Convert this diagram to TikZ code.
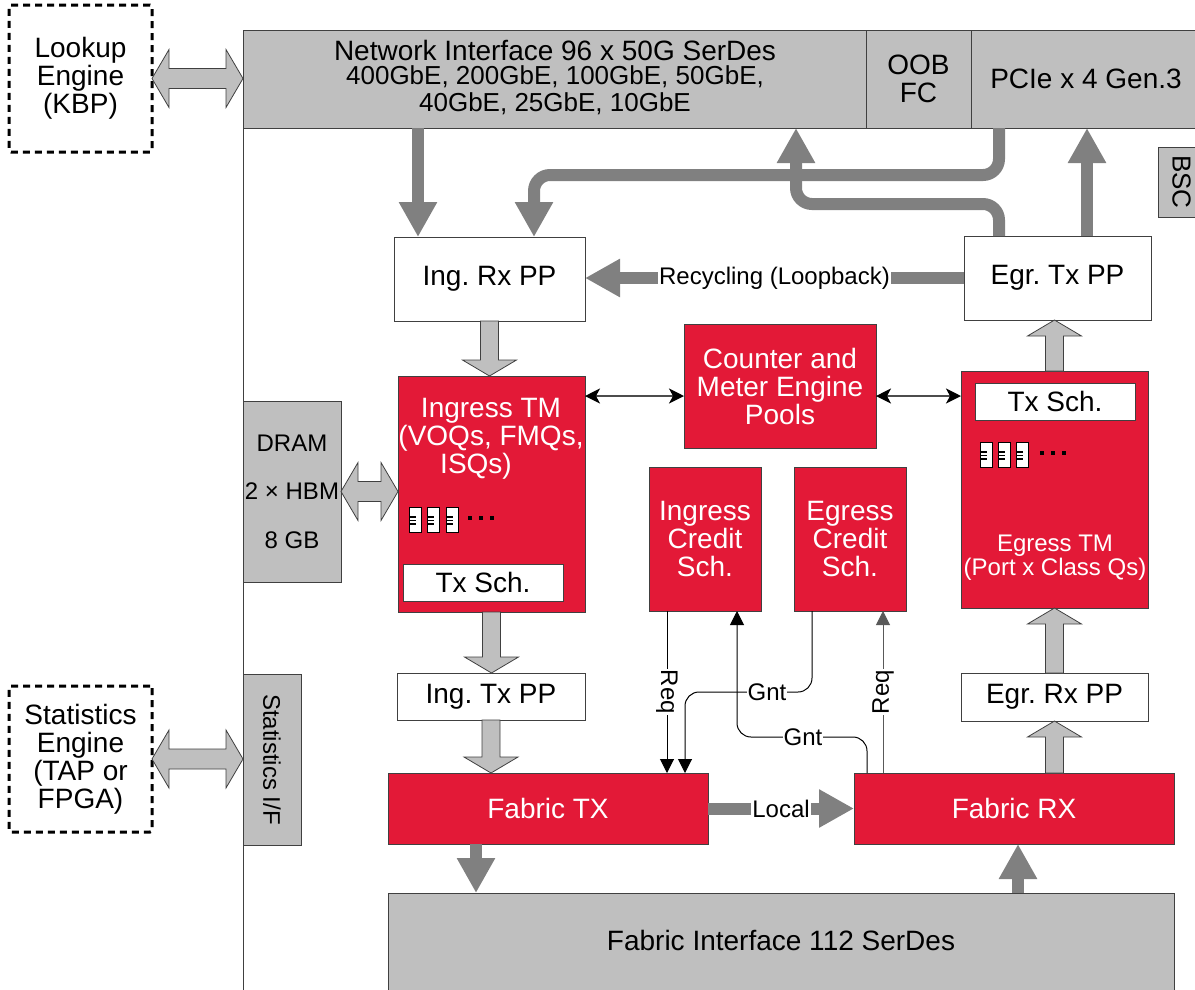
\documentclass[tikz,border=0pt]{standalone}
\usepackage{fontspec}
\setmainfont{Liberation Sans}
\usetikzlibrary{arrows.meta,calc}
\frenchspacing
\definecolor{chipred}{RGB}{227,25,55}
\definecolor{boxgray}{RGB}{191,191,191}
\definecolor{arrgray}{RGB}{128,128,128}
\definecolor{edgegray}{RGB}{64,64,64}
\newcommand\fs[1]{\fontsize{#1}{#1}\selectfont}
\newcommand\hollowV[3]{\draw[hollow] let \p1=#1, \p2=#2 in
  (\x1-9pt,\y1) -- (\x1-9pt,\y2#3) -- (\x1-27pt,\y2#3) -- (\x1,\y2) -- (\x1+27pt,\y2#3) -- (\x1+9pt,\y2#3) -- (\x1+9pt,\y1) -- cycle;}
\newcommand\hollowH[2]{\draw[hollow] let \p1=#1, \p2=#2 in
  (\x1,\y1) -- (\x1+17pt,\y1+29pt) -- (\x1+17pt,\y1+10pt) -- (\x2-17pt,\y1+10pt) -- (\x2-17pt,\y1+29pt) -- (\x2,\y1) -- (\x2-17pt,\y1-29pt) -- (\x2-17pt,\y1-10pt) -- (\x1+17pt,\y1-10pt) -- (\x1+17pt,\y1-29pt) -- cycle;}
\newcommand\qicon[2]{%
  \draw[black, line width=0.9pt, fill=white] (#1,#2) rectangle ++(12,25);
  \foreach \dy in {10,13.5,17} \draw[black, line width=1.7pt] (#1,#2+\dy) -- ++(7,0);}
\newcommand\qdots[2]{%
  \foreach \dx in {0,11,22} \fill[black] (#1+\dx,#2-2) rectangle ++(4,4);}
\tikzset{
  box/.style={draw=edgegray, line width=0.9pt, inner sep=0pt, outer sep=0pt, anchor=north west, align=center, font=\fs{28}},
  redbox/.style={box, fill=chipred, text=white},
  graybox/.style={box, fill=boxgray},
  whitebox/.style={box, fill=white},
  dashbox/.style={box, draw=black, line width=3pt, dash pattern=on 7pt off 5pt, rounded corners=2pt},
  dkarrow/.style={draw=arrgray, line width=12pt, -{Triangle[width=36pt,length=35pt]}},
  thinarrow/.style={draw=black, line width=1pt, -{Triangle[width=14pt,length=14pt]}},
  dblthin/.style={draw=black!70, line width=1.5pt, {Stealth[length=15pt,width=15pt,inset=4pt,color=black]}-{Stealth[length=15pt,width=15pt,inset=4pt,color=black]}},
  hollow/.style={draw=edgegray, fill=boxgray, line width=0.8pt},
  lbl/.style={fill=white, inner sep=1pt, font=\fs{24}, text=black},
  txt/.style={inner sep=0pt, align=center}
}
\begin{document}
\begin{tikzpicture}[x=1pt,y=-1pt]
\useasboundingbox (0,0) rectangle (1195,989);
% helper coordinates
\coordinate (c418) at (418,0);
\coordinate (c476) at (476,0);
\coordinate (c667) at (667,0);
\coordinate (c685) at (685,0);
\coordinate (c737) at (737,0);
\coordinate (c812) at (812,0);
\coordinate (c867) at (867,0);
\coordinate (c883) at (883,0);
\coordinate (c999) at (999,0);
\coordinate (c1018) at (1018,0);
\coordinate (c1087) at (1087,0);
\coordinate (bendA) at (534,175);
\coordinate (bendB) at (796,204);
\coordinate (r396) at (0,396);
\coordinate (r692) at (0,692);
\coordinate (r737) at (0,737);
\coordinate (chipbot) at (243,995);

% chip outline
\draw[edgegray, line width=0.9pt] (243,30) -- (chipbot);

% external engines
\node[dashbox, minimum width=143pt, minimum height=147pt] (lookup) at (9,5) {Lookup\\Engine\\(KBP)};
\node[dashbox, minimum width=143pt, minimum height=146pt] (statseng) at (9,686) {Statistics\\Engine\\(TAP or\\FPGA)};

% top interfaces
\node[graybox, minimum width=623pt, minimum height=98pt] (netif) at (243,30) {};
\node[graybox, minimum width=105pt, minimum height=98pt] (oob) at (866,30) {OOB\\FC};
\node[graybox, minimum width=234pt, minimum height=98pt] (pcie) at (971,30) {PCIe x 4 Gen.3\hspace*{4pt}};
\node[txt, font=\fs{28}] (netl1) at (555,50) {Network Interface 96 x 50G SerDes};
\node[txt, font=\fontsize{26}{26.5}\selectfont] (netl2) at (555,90) {400GbE, 200GbE, 100GbE, 50GbE,\\40GbE, 25GbE, 10GbE};
\node[graybox, minimum width=47pt, minimum height=70pt, font=\fs{26}] (bsc) at (1158,147) {\rotatebox{-90}{BSC}};

% left side blocks
\node[graybox, minimum width=98pt, minimum height=181pt, font=\fontsize{24}{48.5}\selectfont] (dram) at (243,401) {DRAM\\2 × HBM\\8 GB};
\node[graybox, minimum width=58pt, minimum height=171pt, font=\fs{24}] (statsif) at (243,674) {\rotatebox{-90}{Statistics I/F}};

% packet processors
\node[whitebox, minimum width=191pt, minimum height=84pt] (ingrx) at (394,237) {Ing. Rx PP};
\node[whitebox, minimum width=187pt, minimum height=84pt] (egrtx) at (964,236) {Egr. Tx PP};
\node[whitebox, minimum width=188pt, minimum height=47pt] (ingtx) at (397,673) {Ing. Tx PP};
\node[whitebox, minimum width=187pt, minimum height=48pt] (egrrx) at (961,673) {Egr. Rx PP};

% traffic managers
\node[redbox, minimum width=187pt, minimum height=236pt] (ingtm) at (398,376) {};
\node[txt, font=\fs{28}, text=white] (ingtmlbl) at (491,439) {Ingress TM\\(VOQs, FMQs,\\ISQs)\rule{30pt}{0pt}};
\node[whitebox, minimum width=160pt, minimum height=37pt] (txsch1) at (403,564) {Tx Sch.};
\qicon{409}{507}\qicon{427}{507}\qicon{446}{507}
\qdots{468}{518}

\node[redbox, minimum width=187pt, minimum height=237pt] (egtm) at (961,371) {};
\node[txt, font=\fs{24}, text=white] (egtmlbl) at (1055,558) {Egress TM\\(Port x Class Qs)};
\node[whitebox, minimum width=160pt, minimum height=37pt] (txsch2) at (975,383) {Tx Sch.};
\qicon{980}{442}\qicon{998}{442}\qicon{1016}{442}
\qdots{1040}{453}

\node[redbox, minimum width=192pt, minimum height=124pt] (cme) at (684,324) {Counter and\\Meter Engine\\Pools};
\node[redbox, minimum width=112pt, minimum height=144pt] (icsch) at (649,467) {Ingress\\Credit\\Sch.};
\node[redbox, minimum width=112pt, minimum height=144pt] (ecsch) at (794,467) {Egress\\Credit\\Sch.};

% fabric
\node[redbox, minimum width=320pt, minimum height=71pt] (ftx) at (388,773) {Fabric TX};
\node[redbox, minimum width=320pt, minimum height=71pt] (frx) at (854,773) {Fabric RX};
\node[graybox, minimum width=786pt, minimum height=102pt] (fabif) at (388,893) {};
\node[txt, font=\fs{28}] (fabiflbl) at (781,940) {Fabric Interface 112 SerDes};

% hollow double arrows
\hollowH{(lookup.east)}{(lookup.east -| netif.west)}
\hollowH{(dram.east)}{(dram.east -| ingtm.west)}
\hollowH{(statseng.east)}{(statseng.east -| statsif.west)}

% hollow single arrows
\hollowV{(ingrx.south)}{(ingrx.south |- ingtm.north)}{+16pt}
\hollowV{(ingtm.south)}{(ingtm.south |- ingtx.north)}{+16pt}
\hollowV{(ingtx.south)}{(ingtx.south |- ftx.north)}{+16pt}
\hollowV{(egrrx.south |- frx.north)}{(egrrx.south)}{-16pt}
\hollowV{(egrrx.north)}{(egrrx.north |- egtm.south)}{-16pt}
\hollowV{(egtm.north)}{(egtm.north |- egrtx.south)}{-16pt}

% dark grey data arrows
\draw[dkarrow] (c418 |- netif.south) -- (c418 |- ingrx.north);
\draw[dkarrow, rounded corners=16pt] (c999 |- pcie.south) |- (bendA) -- (bendA |- ingrx.north);
\draw[dkarrow, rounded corners=16pt] (c999 |- egrtx.north) |- (bendB) -- (bendB |- netif.south);
\draw[dkarrow] (c1087 |- egrtx.north) -- (c1087 |- pcie.south);
\draw[dkarrow] (egrtx.west) -- node[lbl] (reclbl) {Recycling (Loopback)} (egrtx.west -| ingrx.east);
\draw[dkarrow] (ftx.east) -- node[lbl] (loclbl) {Local} (frx.west);
\draw[dkarrow] (c476 |- ftx.south) -- (c476 |- fabif.north);
\draw[dkarrow] (c1018 |- fabif.north) -- (c1018 |- frx.south);

% counter/meter links
\draw[dblthin] (ingtm.east |- r396) -- (cme.west |- r396);
\draw[dblthin] (cme.east |- r396) -- (egtm.west |- r396);

% credit request / grant
\draw[thinarrow] (c667 |- icsch.south) -- node[lbl, rotate=-90] (req1) {Req} (c667 |- ftx.north);
\draw[thinarrow, rounded corners=14pt] (c812 |- ecsch.south) |- (c685 |- r692) -- (c685 |- ftx.north);
\node[lbl] (gnt1) at (767,692) {Gnt};
\draw[thinarrow, rounded corners=14pt] (c867 |- frx.north) |- (c737 |- r737) -- (c737 |- icsch.south);
\node[lbl] (gnt2) at (803,737) {Gnt};
\draw[thinarrow, draw=black!65] (c883 |- frx.north) -- node[lbl, rotate=90] (req2) {Req} (c883 |- ecsch.south);
\end{tikzpicture}
\end{document}
